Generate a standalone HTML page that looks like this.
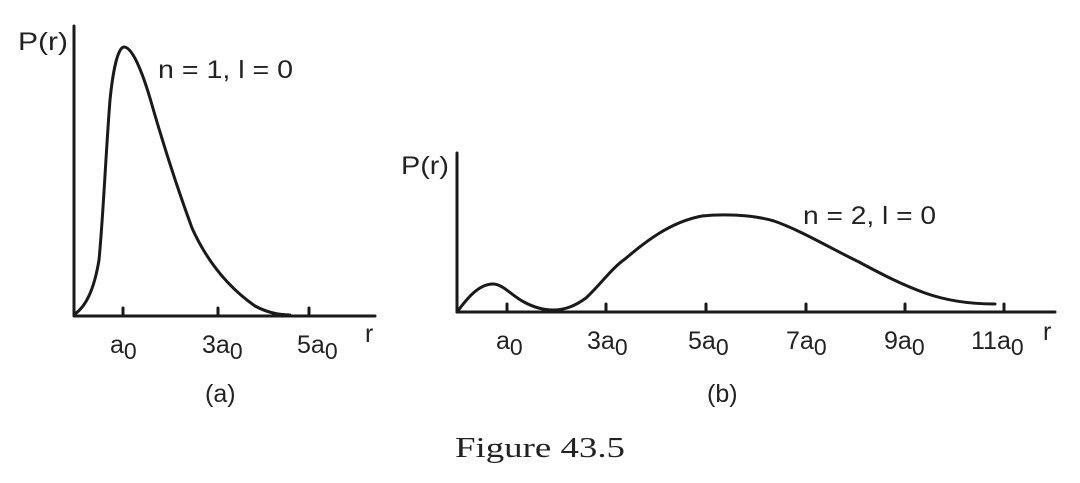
<!DOCTYPE html>
<html><head><style>body{margin:0;background:#fff}svg{display:block}</style></head><body>
<svg width="1080" height="483" xmlns="http://www.w3.org/2000/svg" font-family="Liberation Sans, sans-serif" fill="#222">
<g stroke="#1a1a1a" stroke-width="3" fill="none" stroke-linecap="round" stroke-linejoin="round">
<path d="M74 26 V316 H375"/>
<path d="M123 316 v-8 M218 316 v-8 M309 316 v-8"/>
<path d="M75 314 C86 306 94 290 99 260 C103 220 106 150 110 100 C113 70 118 47 124 47 C132 47 142 70 152 105 C165 150 178 190 192 228 C210 268 235 292 255 306 C268 313 280 315 290 315"/>
<path d="M457 153 V312 H1055"/>
<path d="M507 312 v-8 M606 312 v-8 M706 312 v-8 M806 312 v-8 M905 312 v-8 M1004 312 v-8"/>
<path d="M457 312 C466 300 478 284 493 284 C503 284 512 296 524 302 C535 308 545 310 553 310 C565 310 575 306 586 298 C600 285 612 268 625 259 C645 242 670 222 702 216 C720 214 750 214 774 221 C800 230 830 248 859 262 C885 276 903 285 925 293 C950 302 975 304 995 304"/>
</g>
<g font-size="25">
<text x="18" y="50" textLength="50" lengthAdjust="spacingAndGlyphs">P(r)</text>
<text x="158" y="78" textLength="135" lengthAdjust="spacingAndGlyphs">n = 1, l = 0</text>
<text x="110" y="353">a<tspan font-size="23" dy="6">0</tspan></text>
<text x="202" y="353">3a<tspan font-size="23" dy="6">0</tspan></text>
<text x="297" y="353">5a<tspan font-size="23" dy="6">0</tspan></text>
<text x="365" y="342">r</text>
<text x="205" y="402">(a)</text>
<text x="401" y="174" textLength="48" lengthAdjust="spacingAndGlyphs">P(r)</text>
<text x="803" y="224" textLength="133" lengthAdjust="spacingAndGlyphs">n = 2, l = 0</text>
<text x="496" y="349">a<tspan font-size="23" dy="6">0</tspan></text>
<text x="587" y="349">3a<tspan font-size="23" dy="6">0</tspan></text>
<text x="688" y="349">5a<tspan font-size="23" dy="6">0</tspan></text>
<text x="786" y="349">7a<tspan font-size="23" dy="6">0</tspan></text>
<text x="884" y="349">9a<tspan font-size="23" dy="6">0</tspan></text>
<text x="971" y="349">11a<tspan font-size="23" dy="6">0</tspan></text>
<text x="1043" y="340">r</text>
<text x="707" y="402">(b)</text>
</g>
<text x="455" y="457" font-family="Liberation Serif, serif" font-size="29" textLength="170" lengthAdjust="spacingAndGlyphs">Figure 43.5</text>
</svg>
</body></html>
